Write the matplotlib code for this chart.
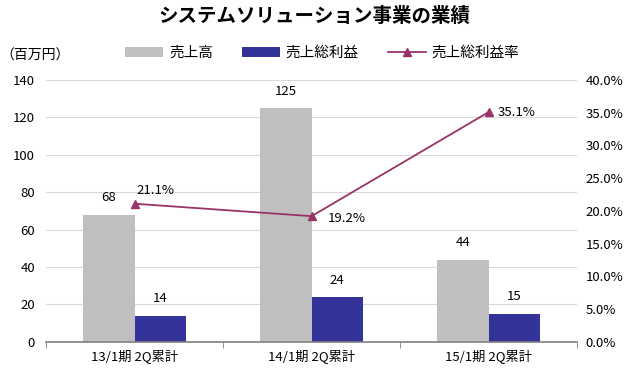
import numpy as np
import matplotlib.pyplot as plt

plt.rcParams['font.family'] = ['Noto Sans CJK JP', 'DejaVu Sans']

# データ
categories = ['13/1期 2Q累計', '14/1期 2Q累計', '15/1期 2Q累計']
sales = [68, 125, 44]            # 売上高 (百万円)
gross_profit = [14, 24, 15]      # 売上総利益 (百万円)
margin = [21.1, 19.2, 35.1]      # 売上総利益率 (%)

fig = plt.figure(figsize=(6.32, 3.74), dpi=100)
ax = fig.add_axes([0.073, 0.086, 0.84, 0.70])
ax2 = ax.twinx()

x = np.arange(len(categories))
w = 0.29

b1 = ax.bar(x - w / 2, sales, w, color='#BFBFBF', label='売上高', zorder=2)
b2 = ax.bar(x + w / 2, gross_profit, w, color='#333399', label='売上総利益', zorder=2)

# 棒の値ラベル
for xi, v in zip(x, sales):
    ax.text(xi - w / 2, v + 9, f'{v}', ha='center', va='center', fontsize=9.5)
for xi, v in zip(x, gross_profit):
    ax.text(xi + w / 2, v + 9, f'{v}', ha='center', va='center', fontsize=9.5)

ax.set_xlim(-0.5, 2.5)
ax.set_ylim(0, 140)
ax.set_yticks(range(0, 141, 20))
ax.set_xticks(x)
ax.set_xticklabels(categories, fontsize=9.5)
ax.tick_params(axis='y', length=0, labelsize=9.5, pad=8)
ax.tick_params(axis='x', length=0, pad=5)
ax.set_xticks([-0.5, 0.5, 1.5, 2.5], minor=True)
ax.tick_params(axis='x', which='minor', length=4, color='#808080', direction='out')
ax.grid(axis='y', color='#D9D9D9', linewidth=0.8, zorder=0)
for s in ['top', 'right', 'left']:
    ax.spines[s].set_visible(False)
ax.spines['bottom'].set_color('#808080')
ax.spines['bottom'].set_linewidth(1.2)
ax.spines['bottom'].set_zorder(3)

# 売上総利益率の折れ線
l1, = ax2.plot(x, margin, color='#993366', marker='^', markersize=6, linewidth=1.3,
               label='売上総利益率')
offsets = [(0.01, 2.0), (0.09, -0.3), (0.05, 0.0)]
for xi, v, (dx, dy) in zip(x, margin, offsets):
    ax2.text(xi + dx, v + dy, f'{v:.1f}%', ha='left', va='center', fontsize=9.5)
ax2.set_ylim(0, 40)
ax2.set_yticks(np.arange(0, 40.1, 5))
ax2.set_yticklabels([f'{t:.1f}%' for t in np.arange(0, 40.1, 5)])
ax2.tick_params(axis='y', length=0, labelsize=9.5, pad=6)
for s in ['top', 'right', 'left', 'bottom']:
    ax2.spines[s].set_visible(False)

fig.text(0.497, 0.955, 'システムソリューション事業の業績', ha='center', va='center',
         fontsize=14, fontweight='bold')
fig.text(0.0, 0.852, '（百万円）', ha='left', va='center', fontsize=10)

fig.legend([b1, b2, l1], ['売上高', '売上総利益', '売上総利益率'], loc='center',
           bbox_to_anchor=(0.51, 0.858), ncol=3, frameon=False, fontsize=10.5,
           handlelength=2.6, handleheight=0.7, columnspacing=2.0, handletextpad=0.4)

fig.savefig('out.png', dpi=100)
